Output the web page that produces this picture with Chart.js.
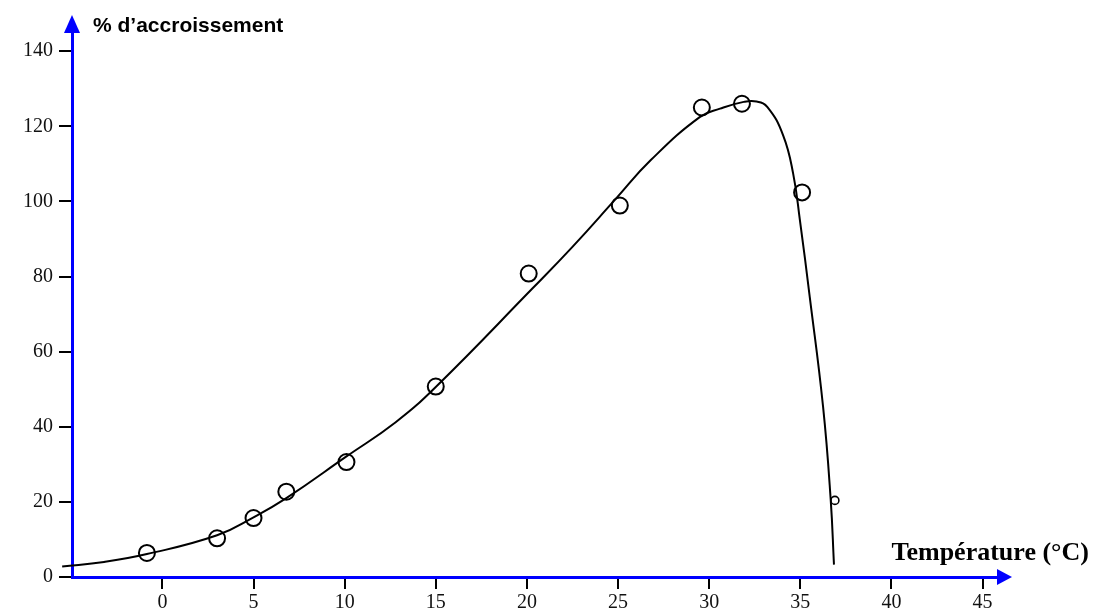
<!DOCTYPE html>
<html>
<head>
<meta charset="utf-8">
<script src="https://cdn.jsdelivr.net/npm/chart.js@4.4.1/dist/chart.umd.min.js"></script>
<style>
  html, body { margin: 0; padding: 0; background: #ffffff; }
  #wrap { width: 1098px; height: 612px; position: relative; }
  canvas { display: block; }
</style>
</head>
<body>
<div id="wrap"><canvas id="c" width="1098" height="612"></canvas></div>
<script>
// ---- Data ----
const xTicks = [0, 5, 10, 15, 20, 25, 30, 35, 40, 45];
const yTicks = [0, 20, 40, 60, 80, 100, 120, 140];

// measured points (circles)
const measuredTemp   = [-0.85, 3.0, 5.0, 6.8, 10.1, 15.0, 20.1, 25.1, 29.6, 31.8, 35.1];
const measuredGrowth = [6.4, 10.3, 15.7, 22.7, 30.6, 50.7, 80.8, 98.9, 125.0, 126.0, 102.4];

// small "o" point near the end
const outlierTemp   = [36.9];
const outlierGrowth = [20.4];

// fitted curve
const curveTemp   = [-5.5, -3.2, -0.85, 3.0, 5.0, 6.8, 10.1, 12.8, 15.0, 20.3, 22.5, 24.9, 26.8, 29.5, 30.6, 31.9, 32.6, 33.2, 34.06, 34.61, 34.98, 35.52, 36.25, 36.67, 36.85];
const curveGrowth = [2.8, 4.0, 6.1, 11.1, 15.9, 21.0, 32.1, 41.2, 50.6, 76.8, 87.9, 100.8, 111.0, 122.5, 124.7, 126.5, 126.6, 125.1, 117.6, 107.4, 95.0, 74.6, 45.4, 20.6, 3.3];

const xTitle = 'Température (°C)';
const yTitle = '% d’accroissement';

const xMin = -4.96, xMax = 45.85;
const yMin = 0, yMax = 145.1;

const toXY = (xs, ys) => xs.map((x, i) => ({ x: x, y: ys[i] }));

const axisDecor = {
  id: 'axisDecor',
  afterDraw(chart) {
    const { ctx, chartArea } = chart;
    const { left, right, top, bottom } = chartArea;
    ctx.save();
    ctx.fillStyle = '#0000ff';
    // x arrow
    ctx.beginPath();
    ctx.moveTo(right - 1, bottom - 8);
    ctx.lineTo(right + 14, bottom);
    ctx.lineTo(right - 1, bottom + 8);
    ctx.closePath();
    ctx.fill();
    // y arrow
    ctx.beginPath();
    ctx.moveTo(left - 8, top + 1);
    ctx.lineTo(left, top - 17);
    ctx.lineTo(left + 8, top + 1);
    ctx.closePath();
    ctx.fill();
    // titles
    ctx.fillStyle = '#000000';
    ctx.textBaseline = 'alphabetic';
    ctx.textAlign = 'left';
    ctx.font = 'bold 21px "Liberation Sans", Arial, sans-serif';
    ctx.fillText(yTitle, left + 21, 31.5);
    ctx.font = 'bold 26px "Liberation Serif", "Times New Roman", serif';
    ctx.fillText(xTitle, 891.5, 560);
    ctx.restore();
  }
};

new Chart(document.getElementById('c'), {
  type: 'scatter',
  data: {
    datasets: [
      {
        label: 'courbe',
        data: toXY(curveTemp, curveGrowth),
        showLine: true,
        borderColor: '#000000',
        borderWidth: 2,
        pointRadius: 0,
        pointHoverRadius: 0,
        tension: 0.45,
        fill: false,
        clip: false,
        order: 2
      },
      {
        label: 'mesures',
        data: toXY(measuredTemp, measuredGrowth),
        showLine: false,
        pointRadius: 8,
        pointBorderWidth: 2,
        pointBorderColor: '#000000',
        pointBackgroundColor: 'rgba(0,0,0,0)',
        clip: false,
        order: 1
      },
      {
        label: 'o',
        data: toXY(outlierTemp, outlierGrowth),
        showLine: false,
        pointRadius: 4,
        pointBorderWidth: 1.6,
        pointBorderColor: '#000000',
        pointBackgroundColor: 'rgba(0,0,0,0)',
        clip: false,
        order: 1
      }
    ]
  },
  options: {
    responsive: false,
    animation: false,
    devicePixelRatio: 1,
    layout: { padding: { top: 32, right: 100, left: 0, bottom: 0 } },
    plugins: { legend: { display: false }, tooltip: { enabled: false } },
    scales: {
      x: {
        type: 'linear',
        min: xMin,
        max: xMax,
        afterFit(s) { s.height = 35; },
        afterBuildTicks(s) { s.ticks = xTicks.map(v => ({ value: v })); },
        grid: { drawOnChartArea: false, drawTicks: true, tickLength: 12, color: '#000000', lineWidth: 2 },
        border: { color: '#0000ff', width: 3 },
        ticks: {
          font: { family: '"Liberation Serif", "Times New Roman", serif', size: 20 },
          color: '#111111',
          padding: 2,
          maxRotation: 0,
          autoSkip: false
        }
      },
      y: {
        type: 'linear',
        min: yMin,
        max: yMax,
        afterFit(s) { s.width = 72; },
        afterBuildTicks(s) { s.ticks = yTicks.map(v => ({ value: v })); },
        grid: { drawOnChartArea: false, drawTicks: true, tickLength: 13, color: '#000000', lineWidth: 2 },
        border: { color: '#0000ff', width: 3 },
        ticks: {
          font: { family: '"Liberation Serif", "Times New Roman", serif', size: 20 },
          color: '#111111',
          padding: 6,
          autoSkip: false
        }
      }
    }
  },
  plugins: [axisDecor]
});
</script>
</body>
</html>
